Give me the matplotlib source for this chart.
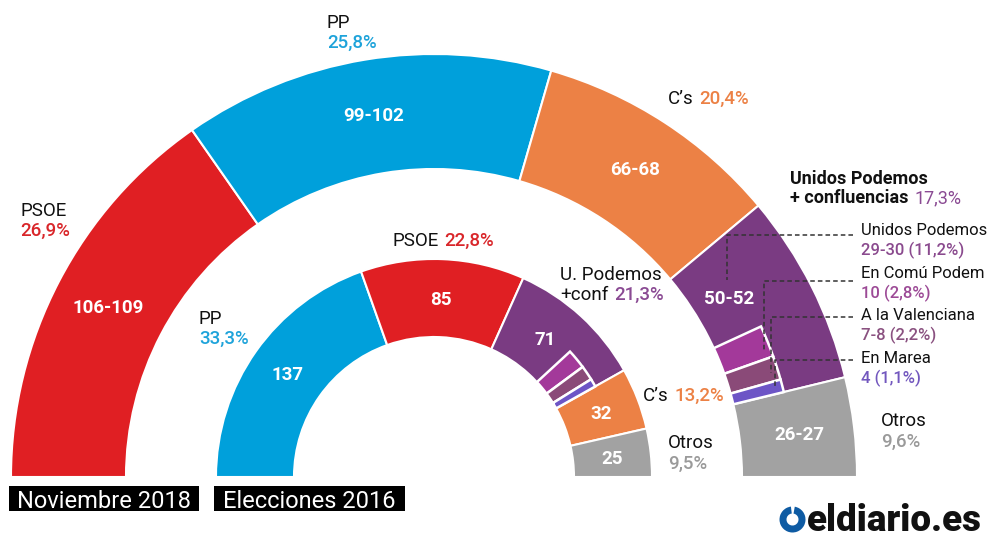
import numpy as np
import matplotlib.pyplot as plt
from matplotlib.patches import Wedge, Rectangle

plt.rcParams['font.family'] = ['Roboto', 'DejaVu Sans']

# --- Noviembre 2018 (outer hemicycle) ---
parties_2018 = ['PSOE', 'PP', "C's", 'UP', 'Otros']
seats_2018 = [107, 99, 66, 51, 26.5]          # midpoints of the ranges, size the arcs
seat_labels_2018 = ['106-109', '99-102', '66-68', '50-52', '26-27']
votes_2018 = ['26,9%', '25,8%', '20,4%', '17,3%', '9,6%']

conf_names = ['Unidos Podemos', 'En Comú Podem', 'A la Valenciana', 'En Marea']
conf_seats_2018 = [29.5, 10, 7.5, 4]
conf_labels_2018 = ['29-30 (11,2%)', '10 (2,8%)', '7-8 (2,2%)', '4 (1,1%)']

# --- Elecciones 2016 (inner hemicycle) ---
parties_2016 = ['PP', 'PSOE', 'UP', "C's", 'Otros']
seats_2016 = [137, 85, 71, 32, 25]
votes_2016 = ['33,3%', '22,8%', '21,3%', '13,2%', '9,5%']
conf_seats_2016 = [45, 12, 9, 5]

colors = {'PSOE': '#E01F23', 'PP': '#00A0DB', "C's": '#EC8145',
          'UP': '#7A3B82', 'Otros': '#A2A2A2'}
conf_colors = ['#7A3B82', '#A3399A', '#8A4A78', '#6D55C6']
text_colors = {'PSOE': '#D9262A', 'PP': '#1EA3DA', "C's": '#EC8145',
               'UP': '#8A4A93', 'Otros': '#9A9A9A'}
conf_text_colors = ['#8A4A8E', '#9C4A96', '#8A5180', '#7257BE']

CX, CY = 434, 477


def polar(r, a):
    return CX + r * np.cos(np.radians(a)), CY - r * np.sin(np.radians(a))


def wedge(ax, r_out, r_in, a_lo, a_hi, color, lw=1.5):
    # y axis is inverted, so visual angles are negated
    ax.add_patch(Wedge((CX, CY), r_out, -a_hi, -a_lo, width=r_out - r_in,
                       facecolor=color, edgecolor='white', linewidth=lw))


def hemicycle(ax, parties, seats, conf_seats, r_out, r_in, r_sub):
    total = sum(seats)
    spans = {}
    a = 180.0
    for p, s in zip(parties, seats):
        a_lo = a - s / total * 180
        wedge(ax, r_out, r_in, a_lo, a, colors[p])
        spans[p] = (a_lo, a)
        a = a_lo
    # confluences drawn as a small block at the inner edge of the UP arc
    a = spans['UP'][1] - conf_seats[0] / total * 180
    sub = [(a, spans['UP'][1])]
    for s, c in zip(conf_seats[1:], conf_colors[1:]):
        a_lo = a - s / total * 180
        wedge(ax, r_sub, r_in, a_lo, a, c, lw=1.8)
        sub.append((a_lo, a))
        a = a_lo
    return spans, sub


def txt(x, yc, s, size, color='#111111', weight='normal', ha='left'):
    base = yc + 0.711 * size * 100 / 72 / 2
    return ax.text(x, base, s, fontsize=size, color=color, fontweight=weight,
                   ha=ha, va='baseline')


def after(t, s, size, color, weight='medium'):
    return ax.annotate(s, xy=(1, 0), xycoords=t, xytext=(4, 0),
                       textcoords='offset points', fontsize=size, color=color,
                       fontweight=weight, ha='left', va='bottom')


fig = plt.figure(figsize=(10, 5.5), dpi=100)
ax = fig.add_axes([0, 0, 1, 1])
ax.set_xlim(0, 1000)
ax.set_ylim(550, 0)
ax.axis('off')

spans18, sub18 = hemicycle(ax, parties_2018, seats_2018, conf_seats_2018, 423, 308, 360)
spans16, sub16 = hemicycle(ax, parties_2016, seats_2016, conf_seats_2016, 218, 140, 185)

# seat numbers inside the arcs
for p, lab in zip(parties_2018, seat_labels_2018):
    lo, hi = spans18[p]
    if p == 'UP':
        x, y = polar(345, (sub18[0][0] + sub18[0][1]) / 2 - 1)
    else:
        x, y = polar(368, (lo + hi) / 2)
    txt(x, y, lab, 13.5, 'white', 'bold', ha='center')

for p, n in zip(parties_2016, seats_2016):
    lo, hi = spans16[p]
    if p == 'UP':
        x, y = polar(178, (sub16[0][0] + sub16[0][1]) / 2 - 3)
    else:
        x, y = polar(179, (lo + hi) / 2)
    txt(x, y, str(n), 13.5, 'white', 'bold', ha='center')

# party labels, 2018
s = 13.5
txt(20, 209, 'PSOE', s)
txt(20, 229, votes_2018[0], s, text_colors['PSOE'], 'medium')
txt(327, 21, 'PP', s)
txt(327, 41, votes_2018[1], s, text_colors['PP'], 'medium')
t = txt(668, 97, "C’s", s)
after(t, votes_2018[2], s, text_colors["C's"])
txt(790, 178, 'Unidos Podemos', 13, weight='bold')
t = txt(790, 197, '+ confluencias', 13, weight='bold')
after(t, votes_2018[3], 13, text_colors['UP'], 'normal')
txt(881, 419, 'Otros', s)
txt(881, 440, votes_2018[4], s, text_colors['Otros'], 'medium')

# confluences with leader lines
name_y = [229, 272, 314, 357]
leader_y = [235, 281, 317, 360]
frac = [0.6, 0.28, 0.36, 0.55]
for i, (nm, lab) in enumerate(zip(conf_names, conf_labels_2018)):
    txt(861, name_y[i], nm, 12)
    txt(861, name_y[i] + 20, lab, 12, conf_text_colors[i], 'medium')
    lo, hi = sub18[i]
    px, py = polar(353, lo + frac[i] * (hi - lo))
    ax.plot([853, px, px], [leader_y[i], leader_y[i], py], color='#333333',
            lw=1.1, ls=(0, (3, 2)), solid_capstyle='butt')

# party labels, 2016
txt(199, 317, 'PP', s)
txt(199, 337, votes_2016[0], s, text_colors['PP'], 'medium')
t = txt(392, 239, 'PSOE', s)
after(t, votes_2016[1], s, text_colors['PSOE'])
txt(560, 273, 'U. Podemos', s)
t = txt(560, 293, '+conf', s)
after(t, votes_2016[2], s, text_colors['UP'])
t = txt(643, 394, "C’s", s)
after(t, votes_2016[3], s, text_colors["C's"])
txt(668, 441, 'Otros', s)
txt(668, 462, votes_2016[4], s, text_colors['Otros'], 'medium')

# black title boxes
for x0, w, title in [(9, 190, 'Noviembre 2018'), (214, 191, 'Elecciones 2016')]:
    ax.add_patch(Rectangle((x0, 486), w, 25, facecolor='black', edgecolor='none'))
    txt(x0 + w / 2, 500, title, 17, 'white', ha='center')

# logo
ax.add_patch(Wedge((792.5, 519.5), 13, -440, -97, width=7,
                   facecolor='#0E5BA3', edgecolor='none'))
ax.text(807, 531, 'eldiario.es', fontsize=26.5, fontweight='heavy',
        color='#111111', ha='left', va='baseline')

fig.savefig('out.png', dpi=100, facecolor='white')
